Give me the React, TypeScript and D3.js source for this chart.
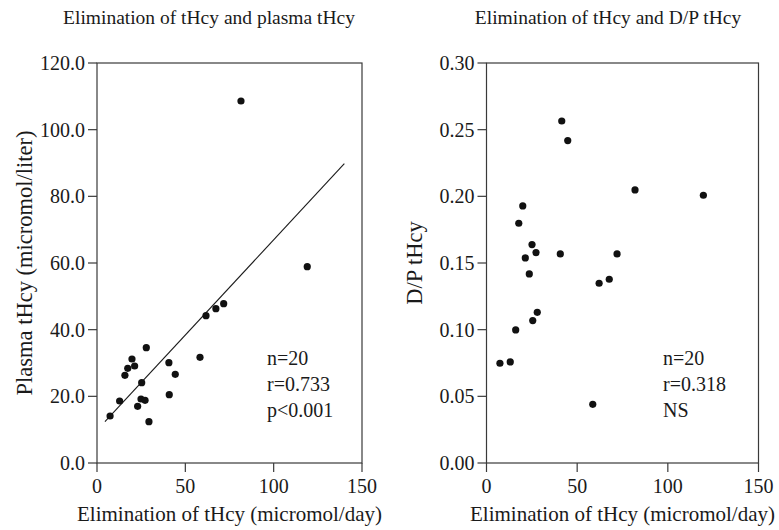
import React from "react";
import * as d3 from "d3";

// ---- Data ----
// Left panel: elimination of tHcy (micromol/day) vs plasma tHcy (micromol/liter)
const elimLeft = [119.0, 61.7, 67.3, 71.7, 27.9, 19.8, 17.4, 21.3, 15.8, 40.7, 58.3, 44.3, 25.3, 12.8, 24.9, 27.2, 23.0, 40.9, 7.4, 29.4, 81.5];
const plasmaTHcy = [58.9, 44.2, 46.3, 47.8, 34.6, 31.2, 28.4, 29.1, 26.3, 30.1, 31.7, 26.6, 24.1, 18.6, 19.2, 18.8, 17.0, 20.5, 14.1, 12.4, 108.6];
// Regression line end points
const fitX = [4.5, 140];
const fitY = [12.4, 89.8];

// Right panel: elimination of tHcy vs D/P tHcy
const elimRight = [7.4, 13.1, 16.1, 25.5, 28.0, 23.6, 21.4, 27.3, 40.7, 72.0, 62.1, 67.7, 58.6, 41.5, 44.8, 81.9, 119.6, 20.0, 17.8, 25.1];
const dpTHcy = [0.0748, 0.0758, 0.0998, 0.1068, 0.113, 0.1418, 0.1538, 0.1578, 0.1568, 0.1568, 0.1348, 0.1378, 0.044, 0.2565, 0.2418, 0.2048, 0.2008, 0.1928, 0.1798, 0.1638];

const xTicks = [0, 50, 100, 150];
const leftYTicks = [0, 20, 40, 60, 80, 100, 120];
const rightYTicks = [0, 0.05, 0.1, 0.15, 0.2, 0.25, 0.3];

const leftTitle = "Elimination of tHcy and plasma tHcy";
const rightTitle = "Elimination of tHcy and D/P tHcy";
const xLabel = "Elimination of tHcy (micromol/day)";
const leftYLabel = "Plasma tHcy (micromol/liter)";
const rightYLabel = "D/P tHcy";
const leftStats = ["n=20", "r=0.733", "p<0.001"];
const rightStats = ["n=20", "r=0.318", "NS"];

const FONT = "'Liberation Serif', 'Times New Roman', serif";
const INK = "#1a1a1a";
const LINE = "#3a3a3a";

type PanelProps = {
  x0: number; x1: number; y0: number; y1: number;
  xs: number[]; ys: number[];
  yDomain: [number, number]; yTicks: number[]; yFmt: (v: number) => string;
  title: string; titleX: number; yLabel: string; yLabelX: number;
  stats: string[]; statsX: number;
  fit?: { x: number[]; y: number[] };
};

function Panel(p: PanelProps) {
  const x = d3.scaleLinear().domain([0, 150]).range([p.x0, p.x1]);
  const y = d3.scaleLinear().domain(p.yDomain).range([p.y1, p.y0]);
  const fs = 20;
  const line = d3.line<number>().x((_, i) => x(p.fit!.x[i])).y((d) => y(d));
  const yMid = (p.y0 + p.y1) / 2;
  return (
    <g fontFamily={FONT} fill={INK}>
      <text x={p.titleX} y={24} fontSize={19.5} textAnchor="middle">{p.title}</text>
      {/* frame */}
      <rect x={p.x0} y={p.y0} width={p.x1 - p.x0} height={p.y1 - p.y0} fill="none" stroke={LINE} strokeWidth={1.2} />
      {/* x ticks */}
      {xTicks.map((t) => (
        <g key={"x" + t}>
          <line x1={x(t)} x2={x(t)} y1={p.y1} y2={p.y1 + 9} stroke={LINE} strokeWidth={1.2} />
          <text x={x(t)} y={p.y1 + 30} fontSize={fs} textAnchor="middle">{String(t)}</text>
        </g>
      ))}
      {/* y ticks */}
      {p.yTicks.map((t) => (
        <g key={"y" + t}>
          <line x1={p.x0 - 9} x2={p.x0} y1={y(t)} y2={y(t)} stroke={LINE} strokeWidth={1.2} />
          <text x={p.x0 - 12} y={y(t) + 7} fontSize={fs} textAnchor="end">{p.yFmt(t)}</text>
        </g>
      ))}
      <text x={(p.x0 + p.x1) / 2} y={521} fontSize={21} textAnchor="middle">{xLabel}</text>
      <text
        x={p.yLabelX}
        y={yMid}
        fontSize={22.5}
        textAnchor="middle"
        transform={`rotate(-90 ${p.yLabelX} ${yMid})`}
      >
        {p.yLabel}
      </text>
      {p.fit && (
        <path d={line(p.fit.y) || ""} fill="none" stroke={INK} strokeWidth={1.1} />
      )}
      {p.xs.map((v, i) => (
        <circle key={"pt" + i} cx={x(v)} cy={y(p.ys[i])} r={3.6} fill="#111" />
      ))}
      {p.stats.map((s, i) => (
        <text key={"s" + i} x={p.statsX} y={365 + i * 26} fontSize={fs}>{s}</text>
      ))}
    </g>
  );
}

export default function App() {
  const f1 = d3.format(".1f");
  const f2 = d3.format(".2f");
  return (
    <div style={{ position: "absolute", left: 0, top: 0 }}>
      <svg width={779} height={530} style={{ display: "block", background: "#fff" }}>
        <Panel
          x0={97} x1={362} y0={63} y1={463}
          xs={elimLeft} ys={plasmaTHcy}
          yDomain={[0, 120]} yTicks={leftYTicks} yFmt={f1}
          title={leftTitle} titleX={209}
          yLabel={leftYLabel} yLabelX={32}
          stats={leftStats} statsX={267}
          fit={{ x: fitX, y: fitY }}
        />
        <Panel
          x0={486.5} x1={758.5} y0={63} y1={463}
          xs={elimRight} ys={dpTHcy}
          yDomain={[0, 0.3]} yTicks={rightYTicks} yFmt={f2}
          title={rightTitle} titleX={608}
          yLabel={rightYLabel} yLabelX={422}
          stats={rightStats} statsX={663}
        />
      </svg>
    </div>
  );
}
